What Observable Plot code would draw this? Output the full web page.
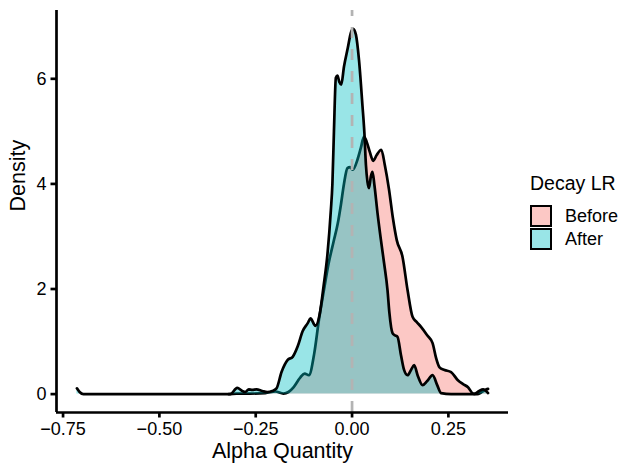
<!DOCTYPE html>
<html><head><meta charset="utf-8">
<script src="https://cdn.jsdelivr.net/npm/d3@7"></script>
<script src="https://cdn.jsdelivr.net/npm/@observablehq/plot@0.6"></script>
<style>
body{margin:0;background:#fff;font-family:"Liberation Sans",Arial,Helvetica,sans-serif;}
#wrap{position:relative;width:624px;height:465px;overflow:hidden;}
#legend{position:absolute;left:530px;top:0;color:#000;}
#legend .lt{position:absolute;left:0;top:172px;font-size:19.5px;white-space:nowrap;}
#legend .key{position:absolute;left:0;width:22px;height:22px;box-sizing:border-box;border:2.7px solid #000;}
#legend .lab{position:absolute;left:35px;font-size:18px;white-space:nowrap;line-height:22px;}
</style></head><body><div id="wrap"></div>
<script>
// ---- data ----
const groups = ["Before", "After"];
const groupColors = ["#F8766D", "#00BFC4"];
const legendTitle = "Decay LR";
const xTitle = "Alpha Quantity";
const yTitle = "Density";
const xTicks = [-0.75, -0.5, -0.25, 0, 0.25];
const yTicks = [0, 2, 4, 6];
const xDomain = [-0.767, 0.406];
const yDomain = [-0.35, 7.3];
const vlineX = [0];

const beforeX = [-0.320,-0.300,-0.264,-0.225,-0.199,-0.178,-0.165,-0.152,-0.134,-0.123,-0.112,-0.098,-0.086,-0.073,-0.061,-0.048,-0.037,-0.029,-0.021,-0.012,-0.005,0.002,0.014,0.023,0.031,0.038,0.046,0.055,0.064,0.076,0.085,0.096,0.106,0.116,0.131,0.144,0.157,0.168,0.179,0.195,0.209,0.218,0.227,0.240,0.257,0.274,0.288,0.301,0.314,0.325,0.335,0.346,0.353];
const beforeY = [0.00,0.01,0.01,0.02,0.05,0.01,0.04,0.13,0.32,0.39,0.36,0.78,1.41,1.98,2.48,2.90,3.25,3.60,4.00,4.30,4.32,4.27,4.46,4.69,4.90,4.80,4.61,4.44,4.55,4.65,4.36,3.89,3.35,2.93,2.61,1.98,1.47,1.37,1.28,1.12,0.97,0.69,0.51,0.46,0.42,0.27,0.19,0.13,0.01,0.00,0.03,0.08,0.10];

const afterX = [-0.714,-0.707,-0.697,-0.600,-0.500,-0.400,-0.316,-0.298,-0.285,-0.277,-0.268,-0.259,-0.248,-0.233,-0.220,-0.207,-0.196,-0.183,-0.167,-0.154,-0.141,-0.128,-0.115,-0.108,-0.095,-0.084,-0.074,-0.064,-0.055,-0.051,-0.047,-0.042,-0.038,-0.033,-0.028,-0.021,-0.011,-0.003,0.003,0.010,0.018,0.027,0.032,0.036,0.040,0.044,0.049,0.053,0.058,0.066,0.075,0.083,0.092,0.097,0.105,0.111,0.118,0.127,0.135,0.144,0.153,0.161,0.171,0.183,0.195,0.209,0.221,0.231,0.257,0.296,0.317,0.330,0.340,0.353];
const afterY = [0.11,0.04,0.00,0.00,0.00,0.00,0.00,0.12,0.06,0.04,0.09,0.08,0.09,0.06,0.04,0.06,0.11,0.42,0.65,0.71,0.91,1.20,1.35,1.44,1.30,1.52,2.05,2.65,3.50,4.00,5.00,6.02,6.06,5.94,5.89,6.23,6.59,6.88,6.95,6.84,6.36,5.49,4.97,4.36,4.04,3.92,4.15,4.23,3.98,3.45,2.93,2.50,1.98,1.54,1.16,1.12,1.09,0.74,0.46,0.36,0.46,0.55,0.34,0.17,0.25,0.36,0.17,0.02,0.00,0.00,0.00,0.06,0.09,0.02];

const before = beforeX.map((x, i) => ({x, y: beforeY[i]}));
const after = afterX.map((x, i) => ({x, y: afterY[i]}));
const fmt = d => d3.format(".2f")(d);
const curve = "monotone-x";
const lw = 2.7;

const chart = Plot.plot({
  width: 624, height: 465,
  marginLeft: 56, marginRight: 116, marginTop: 10, marginBottom: 53,
  style: {fontFamily: '"Liberation Sans", Arial, Helvetica, sans-serif', color: "black", background: "white"},
  x: {domain: xDomain},
  y: {domain: yDomain},
  marks: [
    Plot.areaY(before, {x: "x", y: "y", fill: groupColors[0], fillOpacity: 0.4, curve}),
    Plot.lineY(before, {x: "x", y: "y", stroke: "black", strokeWidth: lw, curve}),
    Plot.areaY(after, {x: "x", y: "y", fill: groupColors[1], fillOpacity: 0.4, curve}),
    Plot.lineY(after, {x: "x", y: "y", stroke: "black", strokeWidth: lw, curve}),
    Plot.ruleX(vlineX, {stroke: "#B3B3B3", strokeWidth: lw, strokeDasharray: "11,11", strokeDashoffset: 5}),
    Plot.ruleY([yDomain[0]], {stroke: "black", strokeWidth: lw}),
    Plot.ruleX([xDomain[0]], {stroke: "black", strokeWidth: lw}),
    Plot.axisX({ticks: xTicks, tickFormat: fmt, tickSize: 5.5, tickPadding: 4.5, fontSize: 18, strokeWidth: lw, color: "black", label: null}),
    Plot.axisY({ticks: yTicks, tickFormat: d => String(d), tickSize: 5.5, tickPadding: 4.5, fontSize: 18, strokeWidth: lw, color: "black", label: null}),
    Plot.text([xTitle], {frameAnchor: "bottom", dy: 45, fontSize: 21.5, fill: "black"}),
    Plot.text([yTitle], {frameAnchor: "left", dx: -38.5, rotate: -90, fontSize: 21.5, fill: "black"})
  ]
});
const wrap = document.getElementById("wrap");
wrap.appendChild(chart);

const legend = document.createElement("div");
legend.id = "legend";
const t = document.createElement("div");
t.className = "lt"; t.textContent = legendTitle;
legend.appendChild(t);
groups.forEach((g, i) => {
  const top = 205 + i * 23;
  const k = document.createElement("div");
  k.className = "key";
  k.style.top = top + "px";
  const c = d3.color(groupColors[i]); c.opacity = 0.4;
  k.style.background = c.formatRgb();
  legend.appendChild(k);
  const l = document.createElement("div");
  l.className = "lab"; l.textContent = g;
  l.style.top = top + "px";
  legend.appendChild(l);
});
wrap.appendChild(legend);
</script></body></html>
